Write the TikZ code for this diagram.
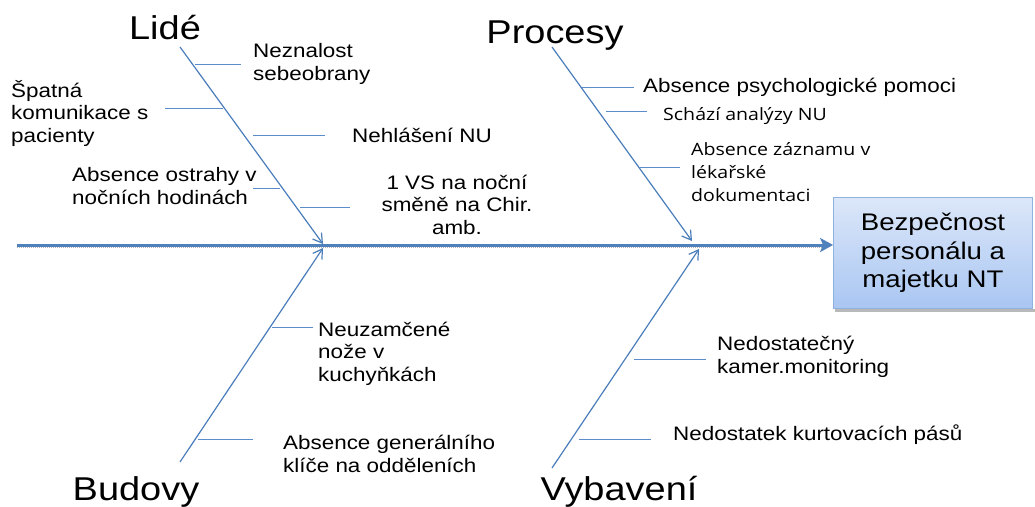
\documentclass[tikz,border=0pt]{standalone}
\usepackage{fontspec}
\setmainfont{Liberation Sans}[FakeStretch=1.15]
\newfontfamily\osfont{Open Sans}[FakeStretch=1.15]
\usetikzlibrary{arrows.meta}
\definecolor{bonec}{HTML}{4A7EBB}
\definecolor{ribc}{HTML}{5B8CCB}
\definecolor{spinec}{HTML}{4F81BD}
\definecolor{boxtop}{HTML}{DCE7F9}
\definecolor{boxbot}{HTML}{A9C6F2}
\definecolor{boxline}{HTML}{8FB1DE}
\tikzset{
  bone/.style={draw=bonec, line width=1.2pt, -{Straight Barb[length=9pt,width=11pt,line width=1.2pt]}},
  rib/.style={draw=ribc, line width=1pt},
  cat/.style={inner sep=0pt, anchor=base, font=\fontsize{33}{38}\selectfont},
  cause/.style={inner sep=0pt, anchor=base west, align=left, font=\fontsize{19.5}{22.5}\selectfont},
  causeos/.style={inner sep=0pt, anchor=base west, align=left, font=\osfont\fontsize{17}{23}\selectfont},
}
\begin{document}
\begin{tikzpicture}[x=1pt,y=-1pt]
\useasboundingbox[fill=white] (0,0) rectangle (1035,506);

% effect box
\fill[gray!55] (835,309) rectangle (1035,312);
\node[draw=boxline, line width=0.8pt, top color=boxtop, bottom color=boxbot,
      minimum width=199pt, minimum height=111pt, inner sep=0pt,
      align=center, font=\fontsize{24}{28.5}\selectfont] (effect) at (933,253)
      {Bezpečnost\\personálu a\\majetku NT};

% spine
\coordinate (spinestart) at (17,245);
\coordinate (spineend) at (spinestart -| effect.west);
\draw[gray!60, line width=1.6pt, dash pattern=on 1pt off 1pt] (17,247.6) -- (826,247.6);
\draw[draw=spinec, line width=3pt, -{Stealth[length=13pt,width=14pt,inset=3pt]}] (spinestart) -- (spineend);

% category labels
\node[cat] (lide) at (165,39) {Lidé};
\node[cat] (procesy) at (555,43) {Procesy};
\node[cat] (budovy) at (136,500) {Budovy};
\node[cat] (vybaveni) at (619,500) {Vybavení};

% bones
\coordinate (lideS) at (180,47);   \coordinate (lideT) at (323,244);
\coordinate (procS) at (552,47);   \coordinate (procT) at (692,241);
\coordinate (budS) at (180,462);   \coordinate (budT) at (323,248);
\coordinate (vybS) at (552,468);   \coordinate (vybT) at (699,249);
\draw[bone] (lideS) -- (lideT);
\draw[bone] (procS) -- (procT);
\draw[bone] (budS) -- (budT);
\draw[bone] (vybS) -- (vybT);

% Lide causes (anchor = baseline of last line)
\node[cause] (c1) at (253,80) {Neznalost\\sebeobrany};
\coordinate (r1a) at (195,64); \coordinate (r1b) at (241,64);
\draw[rib] (r1a) -- (r1b);
\node[cause] (c2) at (11,142) {Špatná\\komunikace s\\pacienty};
\coordinate (r2a) at (165,108); \coordinate (r2b) at (223,108);
\draw[rib] (r2a) -- (r2b);
\node[cause] (c3) at (352,142) {Nehlášení NU};
\coordinate (r3a) at (253,135); \coordinate (r3b) at (325,135);
\draw[rib] (r3a) -- (r3b);
\node[cause] (c4) at (72,204) {Absence ostrahy v\\nočních hodinách};
\coordinate (r4a) at (253,188); \coordinate (r4b) at (280,188);
\draw[rib] (r4a) -- (r4b);
\node[cause, anchor=base, align=center] (c5) at (457,234) {1 VS na noční\\směně na Chir.\\amb.};
\coordinate (r5a) at (300,207); \coordinate (r5b) at (350,207);
\draw[rib] (r5a) -- (r5b);

% Procesy causes
\node[cause] (p1) at (643,92) {Absence psychologické pomoci};
\coordinate (q1a) at (582,87); \coordinate (q1b) at (634,87);
\draw[rib] (q1a) -- (q1b);
\node[causeos] (p2) at (663,120) {Schází analýzy NU};
\coordinate (q2a) at (606,111); \coordinate (q2b) at (647,111);
\draw[rib] (q2a) -- (q2b);
\node[causeos] (p3) at (691,201) {Absence záznamu v\\lékařské\\dokumentaci};
\coordinate (q3a) at (638,167); \coordinate (q3b) at (680,167);
\draw[rib] (q3a) -- (q3b);

% Budovy causes
\node[cause] (b1) at (318,381) {Neuzamčené\\nože v\\kuchyňkách};
\coordinate (s1a) at (272,327); \coordinate (s1b) at (313,327);
\draw[rib] (s1a) -- (s1b);
\node[cause] (b2) at (283,472) {Absence generálního\\klíče na odděleních};
\coordinate (s2a) at (198,439); \coordinate (s2b) at (253,439);
\draw[rib] (s2a) -- (s2b);

% Vybaveni causes
\node[cause] (v1) at (717,373) {Nedostatečný\\kamer.monitoring};
\coordinate (t1a) at (634,359); \coordinate (t1b) at (706,359);
\draw[rib] (t1a) -- (t1b);
\node[cause] (v2) at (673,440) {Nedostatek kurtovacích pásů};
\coordinate (t2a) at (579,439); \coordinate (t2b) at (651,439);
\draw[rib] (t2a) -- (t2b);
\end{tikzpicture}
\end{document}
